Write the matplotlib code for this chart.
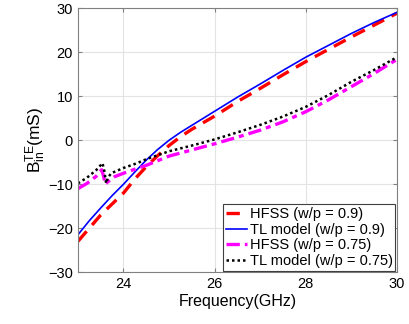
import matplotlib
matplotlib.use("Agg")
import matplotlib.pyplot as plt

plt.rcParams['font.family'] = ['Liberation Sans', 'DejaVu Sans']
plt.rcParams['mathtext.fontset'] = 'custom'
plt.rcParams['mathtext.rm'] = 'Liberation Sans'
plt.rcParams['mathtext.it'] = 'Liberation Sans'

# HFSS, w/p = 0.9
f_h9 = [23.0, 23.25, 23.5, 23.75, 24.0, 24.25, 24.5, 24.75, 25.0, 25.25, 25.5, 26.0, 26.5, 27.0, 27.5, 28.0, 28.5, 29.0, 29.5, 30.0]
b_h9 = [-23.0, -20.0, -17.0, -14.5, -12.0, -8.8, -6.0, -3.5, -1.2, 0.8, 2.5, 5.5, 8.8, 11.8, 14.9, 17.9, 20.7, 23.5, 26.2, 28.9]

# TL model, w/p = 0.9
f_t9 = [23.0, 23.25, 23.5, 23.75, 24.0, 24.25, 24.5, 24.75, 25.0, 25.25, 25.5, 26.0, 26.5, 27.0, 27.5, 28.0, 28.5, 29.0, 29.5, 30.0]
b_t9 = [-21.5, -18.3, -15.4, -12.6, -10.0, -7.2, -4.5, -2.1, 0.0, 1.8, 3.4, 6.6, 9.8, 12.8, 15.9, 18.9, 21.6, 24.3, 26.8, 29.1]

# HFSS, w/p = 0.75
f_h75 = [23.0, 23.2, 23.4, 23.52, 23.56, 23.6, 23.65, 23.8, 24.0, 24.3, 24.5, 25.0, 25.5, 26.0, 26.5, 27.0, 27.5, 28.0, 28.5, 29.0, 29.5, 30.0]
b_h75 = [-11.0, -9.8, -8.2, -6.7, -8.0, -10.0, -9.5, -8.3, -7.5, -6.4, -5.7, -3.6, -2.2, -0.8, 0.7, 2.3, 4.2, 6.5, 9.2, 12.2, 15.2, 18.4]

# TL model, w/p = 0.75
f_t75 = [23.0, 23.2, 23.4, 23.54, 23.58, 23.62, 23.66, 23.73, 24.0, 24.3, 24.5, 25.0, 25.5, 26.0, 26.5, 27.0, 27.5, 28.0, 28.5, 29.0, 29.5, 30.0]
b_t75 = [-9.8, -8.5, -6.8, -5.2, -7.0, -9.8, -8.5, -7.5, -6.3, -5.2, -4.3, -2.5, -1.2, 0.2, 1.8, 3.5, 5.4, 7.6, 10.3, 13.3, 16.0, 18.9]

fig = plt.figure(figsize=(4.1, 3.24), dpi=100)
ax = fig.add_axes([0.190, 0.160, 0.778, 0.814])

ax.plot(f_h9, b_h9, color='#ff0000', linestyle=(0, (4, 2.5)), linewidth=2.4, label='HFSS (w/p = 0.9)')
ax.plot(f_t9, b_t9, color='#0000ff', linestyle='-', linewidth=1.2, label='TL model (w/p = 0.9)')
ax.plot(f_h75, b_h75, color='#ff00ff', linestyle=(0, (4, 1.5, 1.5, 1.5)), linewidth=2.4, label='HFSS (w/p = 0.75)')
ax.plot(f_t75, b_t75, color='black', linestyle=(0, (1, 1.2)), linewidth=1.8, label='TL model (w/p = 0.75)')

ax.set_xlim(23, 30)
ax.set_ylim(-30, 30)
ax.set_xticks([24, 26, 28, 30])
ax.set_yticks([-30, -20, -10, 0, 10, 20, 30])
ax.grid(True, color='#e3e3e3', linewidth=0.8)
ax.set_axisbelow(True)
ax.tick_params(direction='in', top=True, right=True, labelsize=10.5, length=3, color='#808080')
for s in ax.spines.values():
    s.set_color('#808080')
    s.set_linewidth(0.8)

ax.set_xlabel('Frequency(GHz)', fontsize=11.5, labelpad=2)
ax.set_ylabel(r'B$_{\rm in}^{\rm TE}$(mS)', fontsize=12.5, labelpad=0)

leg = ax.legend(loc='lower right', fontsize=10.5, handlelength=1.4, handletextpad=0.2,
                borderpad=0.2, labelspacing=0.1, borderaxespad=0.1, fancybox=False, framealpha=1)
leg.get_frame().set_edgecolor('#404040')
leg.get_frame().set_linewidth(0.8)

fig.savefig('out.png', dpi=100)
